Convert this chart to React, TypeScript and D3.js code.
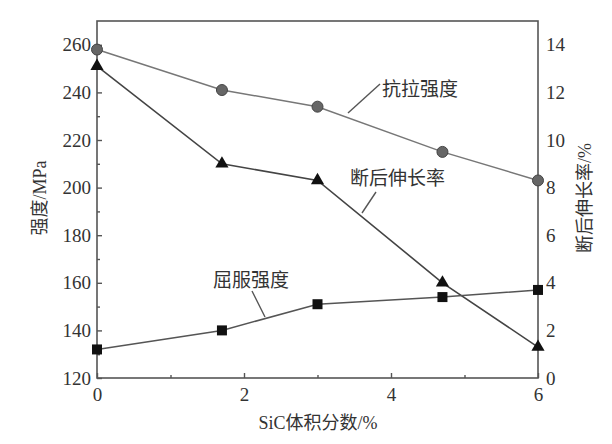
import React, { useEffect, useRef } from 'react';
import { axisBottom, axisLeft, axisRight, line, scaleLinear, select, symbol, symbolTriangle } from 'd3';

// SiC volume fraction (%)
const sicFraction = [0, 1.7, 3, 4.7, 6];
// strength, MPa (left axis)
const tensileStrength = [258, 241, 234, 215, 203];
const yieldStrength = [132, 140, 151, 154, 157];
// elongation after fracture, % (right axis)
const elongation = [13.1, 9.0, 8.3, 4.0, 1.3];

const xTicks = [0, 2, 4, 6];
const xMinor = [1, 3, 5];
const leftTicks = [120, 140, 160, 180, 200, 220, 240, 260];
const leftMinor = [130, 150, 170, 190, 210, 230, 250];
const rightTicks = [0, 2, 4, 6, 8, 10, 12, 14];

const W = 612, H = 444;
const margin = { top: 21, right: 74, bottom: 66, left: 97 };
const width = W - margin.left - margin.right;
const height = H - margin.top - margin.bottom;

const numFont = '"Liberation Serif", "DejaVu Serif", serif';
const cjkFont = '"Liberation Serif", "Noto Sans CJK SC", serif';

export default function App() {
  const svgRef = useRef<SVGSVGElement>(null);

  useEffect(() => {
    const svg = select(svgRef.current);
    svg.selectAll('*').remove();

    const x = scaleLinear().domain([0, 6]).range([0, width]);
    const yL = scaleLinear().domain([120, 270]).range([height, 0]);
    const yR = scaleLinear().domain([0, 15]).range([height, 0]);

    const g = svg.append('g').attr('transform', `translate(${margin.left},${margin.top})`);

    // frame
    g.append('rect')
      .attr('width', width).attr('height', height)
      .attr('fill', 'none').attr('stroke', '#555').attr('stroke-width', 1.6);

    const styleAxis = (sel: any) => {
      sel.select('.domain').remove();
      sel.selectAll('line').attr('stroke', '#555').attr('stroke-width', 1.4);
      sel.selectAll('text')
        .attr('fill', '#333')
        .style('font-family', numFont)
        .style('font-size', '19px');
    };

    // bottom axis
    g.append('g').attr('transform', `translate(0,${height})`)
      .call(axisBottom(x).tickValues(xTicks).tickSize(-5).tickPadding(10).tickFormat((d: any) => String(d)))
      .call(styleAxis);
    g.append('g').attr('transform', `translate(0,${height})`)
      .call(axisBottom(x).tickValues(xMinor).tickSize(-3).tickFormat(() => ''))
      .call(styleAxis);

    // left axis
    g.append('g')
      .call(axisLeft(yL).tickValues(leftTicks).tickSize(-5).tickPadding(6).tickFormat((d: any) => String(d)))
      .call(styleAxis);
    g.append('g')
      .call(axisLeft(yL).tickValues(leftMinor).tickSize(-3).tickFormat(() => ''))
      .call(styleAxis);

    // right axis (labels only)
    g.append('g').attr('transform', `translate(${width},0)`)
      .call(axisRight(yR).tickValues(rightTicks).tickSize(0).tickPadding(8).tickFormat((d: any) => String(d)))
      .call(styleAxis);

    const pts = (vals: number[], y: any) => vals.map((v, i) => [x(sicFraction[i]), y(v)] as [number, number]);
    const lineGen = line();

    // tensile strength: circles
    const tPts = pts(tensileStrength, yL);
    g.append('path').attr('d', lineGen(tPts)).attr('fill', 'none').attr('stroke', '#777').attr('stroke-width', 1.5);
    g.selectAll('.circ').data(tPts).join('circle').attr('class', 'circ')
      .attr('cx', d => d[0]).attr('cy', d => d[1]).attr('r', 5.5)
      .attr('fill', '#666').attr('stroke', '#444').attr('stroke-width', 1);

    // elongation: triangles
    const ePts = pts(elongation, yR);
    g.append('path').attr('d', lineGen(ePts)).attr('fill', 'none').attr('stroke', '#444').attr('stroke-width', 1.6);
    const tri = symbol().type(symbolTriangle).size(75);
    g.selectAll('.tri').data(ePts).join('path').attr('class', 'tri')
      .attr('d', tri as any)
      .attr('transform', d => `translate(${d[0]},${d[1]})`)
      .attr('fill', '#111');

    // yield strength: squares
    const yPts = pts(yieldStrength, yL);
    g.append('path').attr('d', lineGen(yPts)).attr('fill', 'none').attr('stroke', '#555').attr('stroke-width', 1.5);
    g.selectAll('.sq').data(yPts).join('rect').attr('class', 'sq')
      .attr('x', d => d[0] - 5).attr('y', d => d[1] - 5)
      .attr('width', 10).attr('height', 10)
      .attr('fill', '#111');

    // callouts
    const callouts = [
      { text: '抗拉强度', tx: 382, ty: 96, from: [380, 84], to: [348, 113] },
      { text: '断后伸长率', tx: 350, ty: 185, from: [376, 192], to: [362, 213] },
      { text: '屈服强度', tx: 213, ty: 287, from: [252, 291], to: [265, 317] },
    ];
    callouts.forEach(c => {
      svg.append('line')
        .attr('x1', c.from[0]).attr('y1', c.from[1]).attr('x2', c.to[0]).attr('y2', c.to[1])
        .attr('stroke', '#555').attr('stroke-width', 1.4);
      svg.append('text').attr('x', c.tx).attr('y', c.ty)
        .attr('fill', '#333').style('font-family', cjkFont).style('font-size', '19px')
        .text(c.text);
    });

    // axis titles
    svg.append('text')
      .attr('transform', `translate(46,198) rotate(-90)`)
      .attr('text-anchor', 'middle')
      .attr('fill', '#333').style('font-family', cjkFont).style('font-size', '18px')
      .text('强度/MPa');
    svg.append('text')
      .attr('transform', `translate(591,198) rotate(-90)`)
      .attr('text-anchor', 'middle')
      .attr('fill', '#333').style('font-family', cjkFont).style('font-size', '18px')
      .text('断后伸长率/%');
    svg.append('text')
      .attr('x', 318).attr('y', 429)
      .attr('text-anchor', 'middle')
      .attr('fill', '#333').style('font-family', cjkFont).style('font-size', '18px')
      .text('SiC体积分数/%');
  }, []);

  return (
    <svg ref={svgRef} width={W} height={H}
      style={{ position: 'absolute', left: 0, top: 0, background: '#fff' }} />
  );
}
